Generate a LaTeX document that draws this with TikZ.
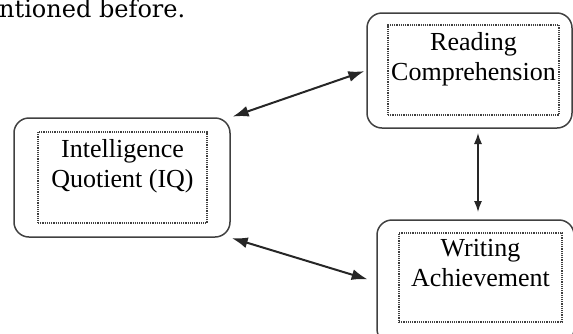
\documentclass[tikz,border=0pt]{standalone}
\usepackage{fontspec}
\setmainfont{Liberation Serif}
\newfontfamily\topfont{DejaVu Serif}
\usetikzlibrary{arrows.meta,positioning}
\definecolor{boxgray}{rgb}{0.25,0.25,0.25}

\begin{document}
\begin{tikzpicture}[x=1pt,y=-1pt,
    outerbox/.style={draw=boxgray, line width=1.5pt, rounded corners=15pt, inner sep=0pt},
    innerbox/.style={draw=boxgray, densely dotted, line width=1.2pt, inner sep=0pt},
    boxtext/.style={font=\fontsize{26}{30}\selectfont, align=center, inner sep=0pt, anchor=north},
    link/.style={{Latex[length=16pt,width=11pt]}-{Latex[length=16pt,width=11pt]}, line width=2pt, black!85}]
\useasboundingbox (0,0) rectangle (573,333);
\clip (0,0) rectangle (573,333);
\node[anchor=base west, inner sep=0pt, font=\topfont\fontsize{24}{26}\selectfont] (before) at (-1,17.5) {ntioned before.};

\node[outerbox, minimum width=216pt, minimum height=119pt] (iq) at (122,177.5) {};
\node[innerbox, minimum width=169pt, minimum height=91pt] (iqin) at (122.5,177.5) {};
\node[boxtext, below=8pt of iqin.north] (iqtext) {Intelligence\\Quotient (IQ)};

\node[outerbox, minimum width=205pt, minimum height=115pt] (read) at (469.5,70.5) {};
\node[innerbox, minimum width=171pt, minimum height=90pt] (readin) at (473.5,70) {};
\node[boxtext, below=8pt of readin.north] (readtext) {Reading\\Comprehension};

\node[outerbox, minimum width=197pt, minimum height=124pt] (write) at (475.5,282) {};
\node[innerbox, minimum width=163pt, minimum height=89pt] (writein) at (480.5,277.5) {};
\node[boxtext, below=7pt of writein.north] (writetext) {Writing\\Achievement};

\coordinate (vtop) at (478,128);
\coordinate (vbot) at (478,220);
\draw[link, shorten <=2pt, shorten >=2pt] (iq.north east) -- (read.west);
\draw[link, shorten <=1pt, shorten >=9pt] (iq.south east) -- (write.west);
\draw[{Latex[length=11pt,width=8pt]}-{Latex[length=11pt,width=8pt]}, line width=1.3pt, black!85, shorten <=5pt, shorten >=8pt] (vtop) -- (vbot);
\end{tikzpicture}
\end{document}
